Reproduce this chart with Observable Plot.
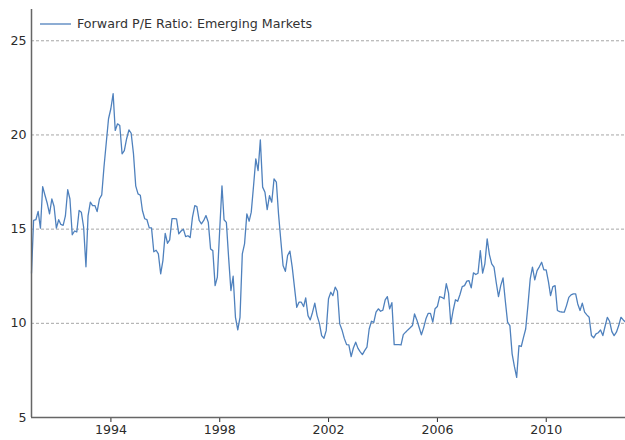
<!DOCTYPE html>
<html><head><meta charset="utf-8">
<script src="https://cdn.jsdelivr.net/npm/d3@7"></script>
<script src="https://cdn.jsdelivr.net/npm/@observablehq/plot@0.6"></script>
<style>
html,body{margin:0;padding:0;background:#fff;}
#wrap{position:relative;width:625px;height:440px;font-family:"DejaVu Sans",Verdana,sans-serif;}
#legend{position:absolute;left:40px;top:16px;display:flex;align-items:center;font-size:12.7px;color:#333;z-index:2;white-space:nowrap;}
#legend svg{margin-right:6px;display:block}
</style></head><body>
<div id="wrap"></div>
<script>
const seriesName = "Forward P/E Ratio: Emerging Markets";
const startYear = 1991; // monthly, first value = January 1991
// Jan 1991 – Sep 1994
const pe1991_1994 = [12.66, 15.46, 15.5, 15.94, 15.05, 17.26, 16.8, 16.36, 15.81, 16.6,
  16.2, 15.05, 15.5, 15.25, 15.2, 15.7, 17.09, 16.6, 14.7, 14.9,
  14.85, 15.99, 15.9, 15.1, 13.0, 15.7, 16.43, 16.25, 16.25, 15.93,
  16.6, 16.82, 18.3, 19.6, 20.86, 21.39, 22.19, 20.24, 20.59, 20.5,
  19.0, 19.17, 19.8, 20.27, 20.09];
// Oct 1994 – Feb 2002
const pe1994_2002 = [19.0, 17.3, 16.87, 16.8, 15.99, 15.55, 15.5, 15.07, 15.07, 13.8,
  13.88, 13.69, 12.63, 13.33, 14.78, 14.25, 14.43, 15.56, 15.56, 15.55,
  14.75, 14.9, 15.0, 14.6, 14.65, 14.55, 15.64, 16.25, 16.2, 15.46,
  15.28, 15.46, 15.72, 15.37, 13.95, 13.86, 12.0, 12.45, 14.93, 17.3,
  15.5, 15.36, 13.5, 11.74, 12.5, 10.32, 9.65, 10.32, 13.69, 14.22,
  15.81, 15.42, 15.9, 17.3, 18.73, 18.11, 19.74, 17.23, 16.96, 16.04,
  16.78, 16.43, 17.67, 17.5, 15.81, 14.4, 13.07, 12.76, 13.6, 13.83,
  12.98, 11.92, 10.85, 11.12, 11.12, 10.89, 11.35, 10.41, 10.18, 10.59,
  11.07, 10.41, 10.0, 9.35, 9.21, 9.61, 11.3, 11.65, 11.47];
// Mar 2002 – Oct 2004
const pe2002_2004 = [11.92, 11.7, 9.97, 9.65, 9.2, 8.87, 8.85, 8.23, 8.69, 9.0,
  8.67, 8.5, 8.34, 8.55, 8.73, 9.7, 10.11, 10.05, 10.59, 10.77,
  10.64, 10.7, 11.25, 11.42, 10.77, 11.1, 8.87, 8.87, 8.87, 8.85,
  9.4, 9.53, 9.65, 9.76, 9.88, 10.5, 10.18, 9.79, 9.39, 9.76,
  10.24, 10.53, 10.53, 10.06];
// Nov 2004 – Jun 2009
const pe2004_2009 = [10.77, 10.89, 11.42, 11.38, 11.3, 12.1, 11.6, 9.97, 10.68, 11.25,
  11.17, 11.53, 11.95, 12.0, 12.24, 12.27, 11.88, 12.68, 12.59, 12.66,
  13.86, 12.66, 13.16, 14.48, 13.65, 13.16, 12.98, 12.18, 11.42, 12.0,
  12.41, 11.21, 10.06, 9.88, 8.38, 7.7, 7.13, 8.82, 8.77, 9.23,
  9.7, 10.94, 12.36, 12.98];
// Jul 2009 – Nov 2012
const pe2009_2012 = [12.31, 12.8, 13.0, 13.24, 12.84, 12.84, 12.2, 11.47, 11.95, 12.0,
  10.68, 10.62, 10.6, 10.59, 10.94, 11.38, 11.51, 11.56, 11.56, 11.03,
  10.68, 11.07, 10.59, 10.45, 10.32, 9.35, 9.23, 9.44, 9.5, 9.65,
  9.35, 9.83, 10.32, 10.11, 9.56, 9.35, 9.53, 9.88, 10.32, 10.18, 10.06];

const xTickYears = [1994, 1998, 2002, 2006, 2010];
const yTicks = [5, 10, 15, 20, 25];
const gridValues = [10, 15, 20, 25];

const values = [].concat(pe1991_1994, pe1994_2002, pe2002_2004, pe2004_2009, pe2009_2012);
const data = values.map((v, i) => ({date: new Date(Date.UTC(startYear, i + 1, 0)), value: v}));

const chart = Plot.plot({
  width: 625, height: 440,
  marginLeft: 31, marginRight: 0, marginTop: 9, marginBottom: 23,
  style: {fontFamily: "'DejaVu Sans', Verdana, sans-serif", fontSize: "12.6px", color: "#2b2b2b", background: "#fff", overflow: "visible"},
  x: {type: "utc", ticks: xTickYears.map(y => new Date(Date.UTC(y, 0, 1))), tickFormat: d3.utcFormat("%Y"), tickSize: 5, tickPadding: 3, label: null},
  y: {domain: [5, 26.66], ticks: yTicks, tickSize: 0, tickPadding: 5, label: null},
  marks: [
    Plot.ruleY(gridValues, {stroke: "#a6a6a6", strokeDasharray: "3,2", strokeWidth: 1}),
    Plot.line(data, {x: "date", y: "value", stroke: "#4f81bd", strokeWidth: 1.3}),
    Plot.ruleY([5], {stroke: "#666", strokeWidth: 1.5}),
    Plot.ruleX([data[0].date], {stroke: "#666", strokeWidth: 1.5})
  ]
});
const wrap = document.getElementById("wrap");
wrap.appendChild(chart);
const legend = document.createElement("div");
legend.id = "legend";
legend.innerHTML = `<svg width="31" height="10"><line x1="0" x2="31" y1="5" y2="5" stroke="#4f81bd" stroke-width="1.3"/></svg><span></span>`;
legend.querySelector("span").textContent = seriesName;
wrap.appendChild(legend);
</script>
</body></html>
